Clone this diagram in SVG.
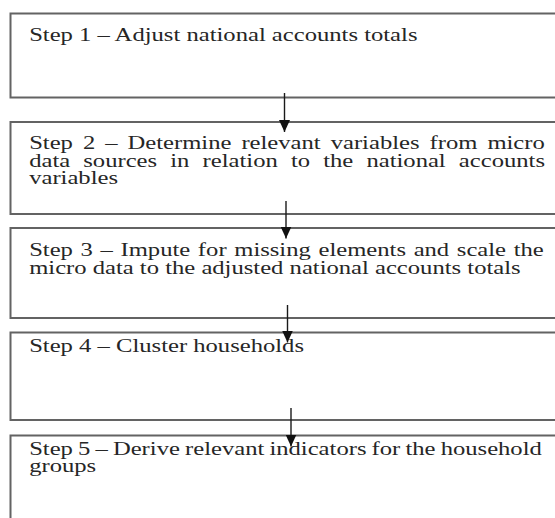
<svg xmlns="http://www.w3.org/2000/svg" width="555" height="518" viewBox="0 0 555 518">
  <style>
    .box { fill: #ffffff; stroke: #636363; stroke-width: 2; }
    .t { font-family: "Liberation Serif", "Times New Roman", serif; font-size: 19px; fill: #262626; }
    .conn { stroke: #1a1a1a; stroke-width: 1.4; fill: none; marker-end: url(#ah); }
  </style>
  <defs>
    <marker id="ah" markerUnits="userSpaceOnUse" markerWidth="12" markerHeight="11" refX="12" refY="5.5" orient="auto" viewBox="0 0 12 11">
      <path d="M0,0 L12,5.5 L0,11 Z" fill="#111111"/>
    </marker>
  </defs>
  <rect x="0" y="0" width="555" height="518" fill="#ffffff"/>

  <g id="step1">
    <rect class="box" x="10.5" y="13.5" width="560" height="84"/>
    <text class="t" transform="scale(1.296 1)" x="22.5" y="41">Step 1 – Adjust national accounts totals</text>
  </g>

  <g id="step2">
    <rect class="box" x="10.5" y="122" width="560" height="92"/>
    <text class="t" transform="scale(1.296 1)">
      <tspan x="22.5" y="149" word-spacing="2.97">Step 2 – Determine relevant variables from micro</tspan>
      <tspan x="22.5" y="167" word-spacing="5.4">data sources in relation to the national accounts</tspan>
      <tspan x="22.5" y="184.5">variables</tspan>
    </text>
  </g>

  <g id="step3">
    <rect class="box" x="10.5" y="228" width="560" height="90"/>
    <text class="t" transform="scale(1.296 1)">
      <tspan x="22.5" y="256.5" word-spacing="1.16">Step 3 – Impute for missing elements and scale the</tspan>
      <tspan x="22.5" y="274">micro data to the adjusted national accounts totals</tspan>
    </text>
  </g>

  <g id="step4">
    <rect class="box" x="10.5" y="332.5" width="560" height="87.5"/>
    <text class="t" transform="scale(1.296 1)" x="22.5" y="352.5">Step 4 – Cluster households</text>
  </g>

  <g id="step5">
    <rect class="box" x="10.5" y="435.5" width="560" height="100"/>
    <text class="t" transform="scale(1.296 1)">
      <tspan x="22.5" y="455" word-spacing="-0.79">Step 5 – Derive relevant indicators for the household</tspan>
      <tspan x="22.5" y="472.5">groups</tspan>
    </text>
  </g>

  <g id="connectors">
    <line class="conn" x1="284.5" y1="93" x2="284.5" y2="132"/>
    <line class="conn" x1="286" y1="201" x2="286" y2="238.5"/>
    <line class="conn" x1="287.5" y1="305" x2="287.5" y2="342.5"/>
    <line class="conn" x1="291" y1="408" x2="291" y2="446.5"/>
  </g>
</svg>
